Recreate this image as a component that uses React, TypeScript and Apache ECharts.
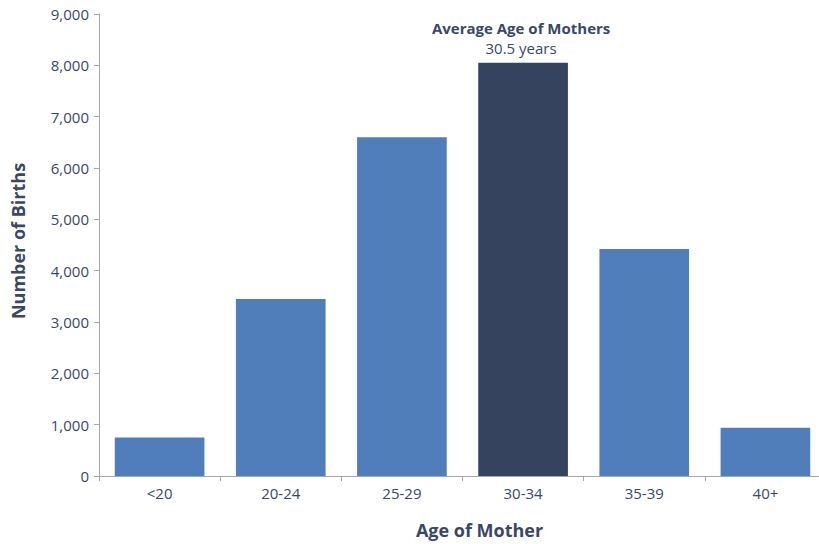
import React, { useEffect, useRef } from "react";
import * as echarts from "echarts";

const categories = ["<20", "20-24", "25-29", "30-34", "35-39", "40+"];
const births = [750, 3450, 6600, 8050, 4420, 940];
const highlightIndex = 3;
const yTicks = { min: 0, max: 9000, interval: 1000 };
const annotationTitle = "Average Age of Mothers";
const annotationValue = "30.5 years";

const FONT = "'Open Sans', 'Noto Sans', sans-serif";
const TEXT = "#3A4766";
const BLUE = "#4F7EBA";
const DARK = "#35435F";

export default function App() {
  const ref = useRef<HTMLDivElement>(null);
  useEffect(() => {
    if (!ref.current) return;
    const chart = echarts.init(ref.current, undefined, { renderer: "svg" });
    chart.setOption({
      animation: false,
      grid: { left: 99, top: 14, width: 727, height: 462, containLabel: false },
      xAxis: {
        type: "category",
        data: categories,
        name: "Age of Mother",
        nameLocation: "middle",
        nameGap: 45,
        nameTextStyle: {
          fontFamily: FONT,
          fontSize: 18,
          fontWeight: "bold",
          color: TEXT,
          padding: [0, 0, 0, 34],
        },
        axisLine: { lineStyle: { color: "#A6A6A6", width: 1 } },
        axisTick: { show: true, length: 5, lineStyle: { color: "#A6A6A6" } },
        axisLabel: { fontFamily: FONT, fontSize: 15, color: TEXT, margin: 9 },
      },
      yAxis: {
        type: "value",
        min: yTicks.min,
        max: yTicks.max,
        interval: yTicks.interval,
        name: "Number of Births",
        nameLocation: "middle",
        nameGap: 72,
        nameTextStyle: {
          fontFamily: FONT,
          fontSize: 18,
          fontWeight: "bold",
          color: TEXT,
          padding: [0, 0, 0, 8],
        },
        axisLine: { show: true, lineStyle: { color: "#A6A6A6", width: 1 } },
        axisTick: { show: true, length: 5, lineStyle: { color: "#A6A6A6" } },
        splitLine: { show: false },
        axisLabel: {
          fontFamily: FONT,
          fontSize: 15,
          color: TEXT,
          margin: 10,
          formatter: (v: number) => v.toLocaleString("en-US"),
        },
      },
      series: [
        {
          type: "bar",
          barCategoryGap: "26%",
          data: births.map((v, i) =>
            i === highlightIndex
              ? {
                  value: v,
                  itemStyle: { color: DARK },
                  label: {
                    show: true,
                    position: "top",
                    distance: 5,
                    offset: [-2, 0],
                    formatter: `{a|${annotationTitle}}\n{b|${annotationValue}}`,
                    rich: {
                      a: { fontFamily: FONT, fontSize: 15, fontWeight: "bold", color: TEXT, lineHeight: 20 },
                      b: { fontFamily: FONT, fontSize: 15, color: TEXT, lineHeight: 20 },
                    },
                  },
                }
              : { value: v, itemStyle: { color: BLUE } }
          ),
        },
      ],
    });
    return () => chart.dispose();
  }, []);
  return (
    <div style={{ position: "absolute", left: 0, top: 0, width: 819, height: 544, overflow: "hidden" }}>
      <div ref={ref} style={{ width: 830, height: 544 }} />
    </div>
  );
}
